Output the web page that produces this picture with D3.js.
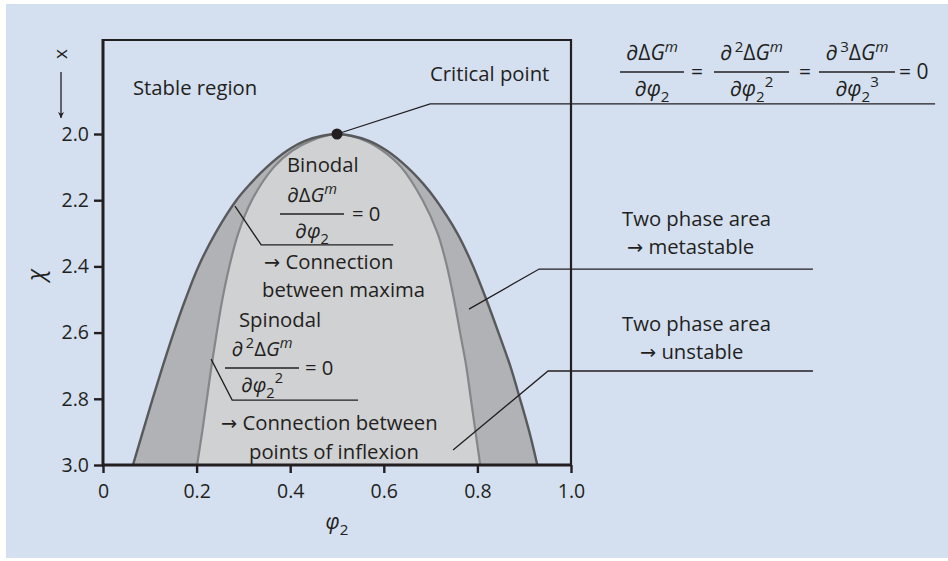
<!DOCTYPE html>
<html>
<head>
<meta charset="utf-8">
<script src="https://cdn.jsdelivr.net/npm/d3@7"></script>
<style>
  html, body { margin: 0; padding: 0; background: #fff; }
  svg { display: block; }
</style>
</head>
<body>
<div id="chart"></div>
<script>
// phase diagram: binodal + spinodal dome, chi vs phi2

// data (phi2, chi), left foot -> top -> right foot
const binodalPhi = [0.064, 0.085, 0.106, 0.128, 0.151, 0.176, 0.204, 0.240, 0.285, 0.315, 0.350, 0.394, 0.433, 0.500,
  0.567, 0.606, 0.650, 0.684, 0.712, 0.757, 0.791, 0.819, 0.845, 0.870, 0.891, 0.911, 0.928];
const binodalChi = [3.00, 2.90, 2.80, 2.70, 2.60, 2.50, 2.40, 2.30, 2.20, 2.15, 2.10, 2.05, 2.02, 2.00,
  2.02, 2.05, 2.10, 2.15, 2.20, 2.30, 2.40, 2.50, 2.60, 2.70, 2.80, 2.90, 3.00];

const spinodalPhi = [0.201, 0.212, 0.222, 0.232, 0.243, 0.255, 0.270, 0.289, 0.318, 0.365, 0.405, 0.445, 0.500,
  0.560, 0.597, 0.637, 0.683, 0.715, 0.735, 0.750, 0.763, 0.776, 0.786, 0.796, 0.806];
const spinodalChi = [3.00, 2.90, 2.80, 2.70, 2.60, 2.50, 2.40, 2.30, 2.20, 2.10, 2.05, 2.02, 2.00,
  2.02, 2.05, 2.10, 2.20, 2.30, 2.40, 2.50, 2.60, 2.70, 2.80, 2.90, 3.00];

const criticalPoint = { phi: 0.5, chi: 2.0 };

const xTicks = [0, 0.2, 0.4, 0.6, 0.8, 1.0];
const yTicks = [2.0, 2.2, 2.4, 2.6, 2.8, 3.0];

// leader lines in data space (phi2, chi)
const leaders = [
  [[0.5, 2.0], [0.699, 1.909], [1.778, 1.909]],
  [[0.282, 2.218], [0.338, 2.335], [0.620, 2.335]],
  [[0.231, 2.680], [0.276, 2.804], [0.545, 2.804]],
  [[0.782, 2.529], [0.932, 2.408], [1.517, 2.408]],
  [[0.748, 2.955], [0.951, 2.716], [1.517, 2.716]],
];

const W = 948, H = 561;
const INK = "#231f20";
const FONT = "'Open Sans', 'Noto Sans', sans-serif";
const FS = 20.3;

const svg = d3.select("#chart").append("svg")
  .attr("width", W).attr("height", H)
  .attr("font-family", FONT);

svg.append("rect").attr("x", 6).attr("y", 4).attr("width", W - 6).attr("height", H - 7)
  .attr("fill", "#d4dff0");

const x = d3.scaleLinear().domain([0, 1]).range([103, 571]);
const y = d3.scaleLinear().domain([1.716, 3.0]).range([40, 465]);

const binodal = binodalPhi.map((p, i) => ({ phi: p, chi: binodalChi[i] }));
const spinodal = spinodalPhi.map((p, i) => ({ phi: p, chi: spinodalChi[i] }));

const curve = d3.curveCatmullRom.alpha(0.5);
const area = d3.area()
  .x(d => x(d.phi)).y0(y(3.0)).y1(d => y(d.chi)).curve(curve);
const line = d3.line()
  .x(d => x(d.phi)).y(d => y(d.chi)).curve(curve);

svg.append("path").datum(binodal).attr("d", area).attr("fill", "#b1b2b5");
svg.append("path").datum(spinodal).attr("d", area).attr("fill", "#d0d1d3");
svg.append("path").datum(spinodal).attr("d", line)
  .attr("fill", "none").attr("stroke", "#858689").attr("stroke-width", 2.2);
svg.append("path").datum(binodal).attr("d", line)
  .attr("fill", "none").attr("stroke", "#58595b").attr("stroke-width", 2.4);

// frame top + right
svg.append("path")
  .attr("d", `M${x(0)},${y.range()[0]}H${x(1)}V${y(3.0)}`)
  .attr("fill", "none").attr("stroke", INK).attr("stroke-width", 2.2);

// axes
const xAxis = svg.append("g").attr("transform", `translate(0,${y(3.0)})`)
  .call(d3.axisBottom(x).tickValues(xTicks).tickSize(8).tickPadding(11)
    .tickFormat(d => d === 0 ? "0" : d3.format(".1f")(d)));
const yAxis = svg.append("g").attr("transform", `translate(${x(0)},0)`)
  .call(d3.axisLeft(y).tickValues(yTicks).tickSize(9).tickPadding(5).tickFormat(d3.format(".1f")));

[xAxis, yAxis].forEach(a => {
  a.select(".domain").remove();
  a.selectAll("line").attr("stroke", INK).attr("stroke-width", 2.4);
  a.selectAll("text").attr("fill", INK).attr("font-size", 19.5).attr("font-family", FONT);
});
svg.append("path")
  .attr("d", `M${x(0)},${y.range()[0] - 1}V${y(3.0)}H${x(1) + 1}`)
  .attr("fill", "none").attr("stroke", INK).attr("stroke-width", 3);

// leaders
leaders.forEach(pts => {
  svg.append("path")
    .attr("d", d3.line().x(d => x(d[0])).y(d => y(d[1]))(pts))
    .attr("fill", "none").attr("stroke", INK).attr("stroke-width", 1.3);
});

svg.append("circle")
  .attr("cx", x(criticalPoint.phi)).attr("cy", y(criticalPoint.chi)).attr("r", 5.5)
  .attr("fill", INK);

// text helpers
function label(txt, px, py, size = FS, anchor = "start") {
  const t = svg.append("text").attr("x", px).attr("y", py).attr("font-size", size)
    .attr("fill", INK).attr("text-anchor", anchor);
  // arrow glyph from DejaVu, Open Sans has only a tiny one
  const m = txt.match(/^→\s?(.*)$/);
  if (m) {
    t.append("tspan").attr("font-family", "'DejaVu Sans', sans-serif")
      .attr("font-size", size * 0.95).text("→");
    t.append("tspan").text(" " + m[1]);
  } else {
    t.text(txt);
  }
  return t;
}

// parts: [text, italic?, shift(em, negative = up), scale]
function mathText(px, py, parts, size = FS, anchor = "middle") {
  const t = svg.append("text").attr("x", px).attr("y", py).attr("font-size", size)
    .attr("fill", INK).attr("text-anchor", anchor);
  let cur = 0;
  parts.forEach(([s, it, shift = 0, sc = 1]) => {
    const dy = (shift - cur) * size;
    cur = shift;
    t.append("tspan").attr("dy", dy).attr("font-style", it ? "italic" : "normal")
      .attr("font-size", size * sc).text(s);
  });
  return t;
}

const numD1 = [["∂", true], ["Δ", false], ["G", true], ["m", true, -0.4, 0.72]];
const numD2 = [["∂", true], ["\u2009", false, -0.4, 0.72], ["2", false, -0.4, 0.72], ["Δ", false], ["G", true], ["m", true, -0.4, 0.72]];
const numD3 = [["∂", true], ["\u2009", false, -0.4, 0.72], ["3", false, -0.4, 0.72], ["Δ", false], ["G", true], ["m", true, -0.4, 0.72]];
const den1 = [["∂φ", true], ["2", false, 0.28, 0.72]];
const den2 = [["∂φ", true], ["2", false, 0.28, 0.72], ["2", false, -0.45, 0.72]];
const den3 = [["∂φ", true], ["2", false, 0.28, 0.72], ["3", false, -0.45, 0.72]];

function fraction(x1, x2, barY, num, den, size = FS) {
  const cx = (x1 + x2) / 2;
  mathText(cx, barY - 12, num, size);
  mathText(cx, barY + 24, den, size);
  svg.append("line").attr("x1", x1).attr("x2", x2).attr("y1", barY).attr("y2", barY)
    .attr("stroke", INK).attr("stroke-width", 1.3);
}

// top right equation
fraction(620, 684, 72, numD1, den1, 21);
label("=", 697, 79, 21, "middle");
fraction(714, 789, 72, numD2, den2, 21);
label("=", 805, 79, 21, "middle");
fraction(819, 895, 72, numD3, den3, 21);
label("= 0", 899, 79, 21, "start");

label("Critical point", 430, 81);
label("Stable region", 133, 95);

// binodal block
label("Binodal", 287, 172);
fraction(280, 344, 214, numD1, den1);
label("= 0", 352, 221);
label("→ Connection", 264, 269);
label("between maxima", 262, 297);

// spinodal block
label("Spinodal", 239, 327);
fraction(225, 299, 368, numD2, den2);
label("= 0", 305, 375);
label("→ Connection between", 221, 430);
label("points of inflexion", 249, 459);

// two phase labels
label("Two phase area", 622, 226);
label("→ metastable", 627, 254);
label("Two phase area", 622, 331);
label("→ unstable", 640, 359);

// axis titles
mathText(x(0.5), 529, [["φ", true], ["2", false, 0.28, 0.72]], 21, "middle");
svg.append("text").attr("transform", "translate(44,275) rotate(-90)")
  .attr("font-size", 23).attr("font-style", "italic").attr("fill", INK)
  .attr("text-anchor", "middle").text("χ");
svg.append("text").attr("transform", "translate(67,54) rotate(-90)")
  .attr("font-size", 19).attr("fill", INK).attr("text-anchor", "middle").text("x");

// arrow under x
svg.append("defs").append("marker").attr("id", "ah")
  .attr("viewBox", "0 0 10 10").attr("refX", 10).attr("refY", 5)
  .attr("markerWidth", 6).attr("markerHeight", 7).attr("markerUnits", "userSpaceOnUse")
  .attr("orient", "auto")
  .append("path").attr("d", "M0,0L10,5L0,10L3,5Z").attr("fill", INK);
svg.append("line").attr("x1", 61).attr("x2", 61).attr("y1", 72).attr("y2", 118)
  .attr("stroke", INK).attr("stroke-width", 1.3).attr("marker-end", "url(#ah)");
</script>
</body>
</html>
